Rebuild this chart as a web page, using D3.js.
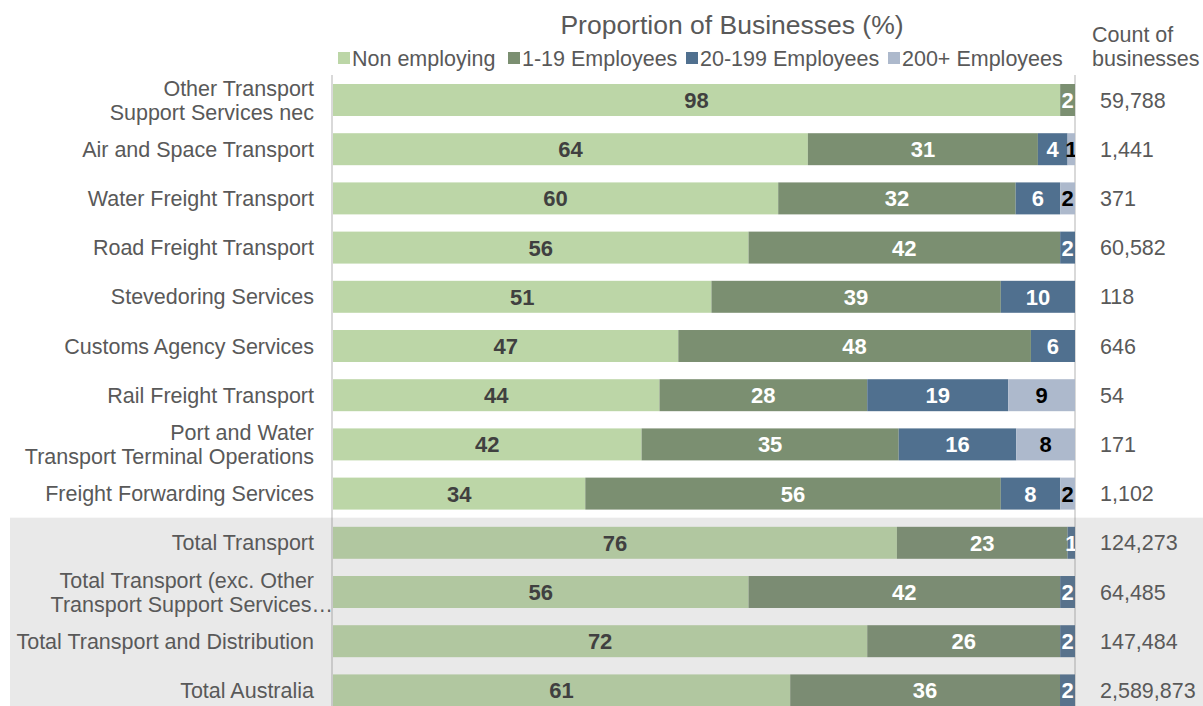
<!DOCTYPE html>
<html>
<head>
<meta charset="utf-8">
<script src="https://cdn.jsdelivr.net/npm/d3@7"></script>
<style>
  html, body { margin: 0; padding: 0; background: #fff; }
  svg { display: block; font-family: "Liberation Sans", Arial, sans-serif; }
</style>
</head>
<body>
<svg id="chart" width="1203" height="706"></svg>
<script>
// Industry rows (label lines) and business counts
const categories = [
  ["Other Transport", "Support Services nec"],
  ["Air and Space Transport"],
  ["Water Freight Transport"],
  ["Road Freight Transport"],
  ["Stevedoring Services"],
  ["Customs Agency Services"],
  ["Rail Freight Transport"],
  ["Port and Water", "Transport Terminal Operations"],
  ["Freight Forwarding Services"],
  ["Total Transport"],
  ["Total Transport (exc. Other", "Transport Support Services\u2026"],
  ["Total Transport and Distribution"],
  ["Total Australia"]
];
const counts = ["59,788", "1,441", "371", "60,582", "118", "646", "54", "171", "1,102",
                "124,273", "64,485", "147,484", "2,589,873"];

// Share of businesses by employment size (%)
const seriesNames = ["Non employing", "1-19 Employees", "20-199 Employees", "200+ Employees"];
const nonEmploying = [98, 64, 60, 56, 51, 47, 44, 42, 34, 76, 56, 72, 61];
const emp1to19     = [ 2, 31, 32, 42, 39, 48, 28, 35, 56, 23, 42, 26, 36];
const emp20to199   = [ 0,  4,  6,  2, 10,  6, 19, 16,  8,  1,  2,  2,  2];
const emp200plus   = [ 0,  1,  2,  0,  0,  0,  9,  8,  2,  0,  0,  0,  0];
const firstTotalRow = 9;

const colors = ["#bcd6a7", "#7b8f71", "#50708f", "#adb9cc"];
const labelColors = ["#404040", "#ffffff", "#ffffff", "#000000"];

const rows = categories.map((c, i) => ({
  idx: i,
  s0: nonEmploying[i], s1: emp1to19[i], s2: emp20to199[i], s3: emp200plus[i]
}));
const keys = ["s0", "s1", "s2", "s3"];

const svg = d3.select("#chart");
const W = 1203, H = 706;
const plotL = 333, plotR = 1075;
const fs = 21.5;

const x = d3.scaleLinear().domain([0, 1]).range([plotL, plotR]);
const y = d3.scaleBand()
  .domain(rows.map(r => r.idx))
  .range([75.4, 715])
  .paddingInner(0.35)
  .paddingOuter(0.175);

const stack = d3.stack().keys(keys).offset(d3.stackOffsetExpand);
const stacked = stack(rows);

// Title and legend
svg.append("text")
  .attr("x", 732).attr("y", 34)
  .attr("text-anchor", "middle")
  .attr("font-size", 26.5).attr("fill", "#595959")
  .text("Proportion of Businesses (%)");

const legendX = [338, 508, 686, 888];
const legend = svg.append("g");
seriesNames.forEach((n, i) => {
  legend.append("rect")
    .attr("x", legendX[i]).attr("y", 52)
    .attr("width", 12).attr("height", 12)
    .attr("fill", colors[i]);
  legend.append("text")
    .attr("x", legendX[i] + 14).attr("y", 65.5)
    .attr("font-size", fs).attr("fill", "#595959")
    .text(n);
});

svg.append("text")
  .attr("font-size", fs).attr("fill", "#595959")
  .selectAll("tspan").data(["Count of", "businesses"]).join("tspan")
  .attr("x", 1092).attr("y", (d, i) => 42 + i * 23.5)
  .text(d => d);

// Axis lines
const axisTop = 75;
svg.append("line")
  .attr("x1", plotL - 1).attr("x2", plotL - 1).attr("y1", axisTop).attr("y2", H)
  .attr("stroke", "#d9d9d9").attr("stroke-width", 2);
svg.append("line")
  .attr("x1", plotR).attr("x2", plotR).attr("y1", axisTop).attr("y2", H)
  .attr("stroke", "#d9d9d9").attr("stroke-width", 2);

// Stacked bars
const barG = svg.append("g");
stacked.forEach((layer, li) => {
  barG.selectAll(null).data(layer.filter(d => d[1] > d[0])).join("rect")
    .attr("x", d => x(d[0]))
    .attr("y", d => y(d.data.idx))
    .attr("width", d => x(d[1]) - x(d[0]))
    .attr("height", y.bandwidth())
    .attr("fill", colors[li]);
});

// Shaded band behind the total rows
const bandTop = y(firstTotalRow) - (y.step() - y.bandwidth()) / 2 - 0.5;
svg.append("rect")
  .attr("x", 10).attr("y", bandTop)
  .attr("width", W - 10).attr("height", H - bandTop)
  .attr("fill", "rgb(128,128,128)").attr("fill-opacity", 0.173);

// Value labels, clipped to the plot area
svg.append("clipPath").attr("id", "plotClip")
  .append("rect").attr("x", plotL).attr("y", 0).attr("width", plotR - plotL).attr("height", H);

const labelG = svg.append("g").attr("clip-path", "url(#plotClip)");
stacked.forEach((layer, li) => {
  labelG.selectAll(null).data(layer.filter(d => d[1] > d[0])).join("text")
    .attr("x", d => (x(d[0]) + x(d[1])) / 2)
    .attr("y", d => y(d.data.idx) + y.bandwidth() / 2 + 8)
    .attr("text-anchor", "middle")
    .attr("font-size", 22).attr("font-weight", "bold")
    .attr("fill", labelColors[li])
    .text(d => d.data[keys[li]]);
});

// Category labels
const catG = svg.append("g");
categories.forEach((lines, i) => {
  const cy = y(i) + y.bandwidth() / 2;
  const t = catG.append("text")
    .attr("font-size", fs).attr("fill", "#595959")
    .attr("text-anchor", "end");
  lines.forEach((ln, k) => {
    const dy = lines.length === 1 ? 7.5 : (k === 0 ? -4.5 : 19.5);
    const endX = (lines.length === 2 && i === 10 && k === 1) ? 333 : 314;
    t.append("tspan").attr("x", endX).attr("y", cy + dy).text(ln);
  });
});

// Business counts
svg.append("g").selectAll("text").data(counts).join("text")
  .attr("x", 1100)
  .attr("y", (d, i) => y(i) + y.bandwidth() / 2 + 7.5)
  .attr("font-size", fs).attr("fill", "#595959")
  .text(d => d);
</script>
</body>
</html>
